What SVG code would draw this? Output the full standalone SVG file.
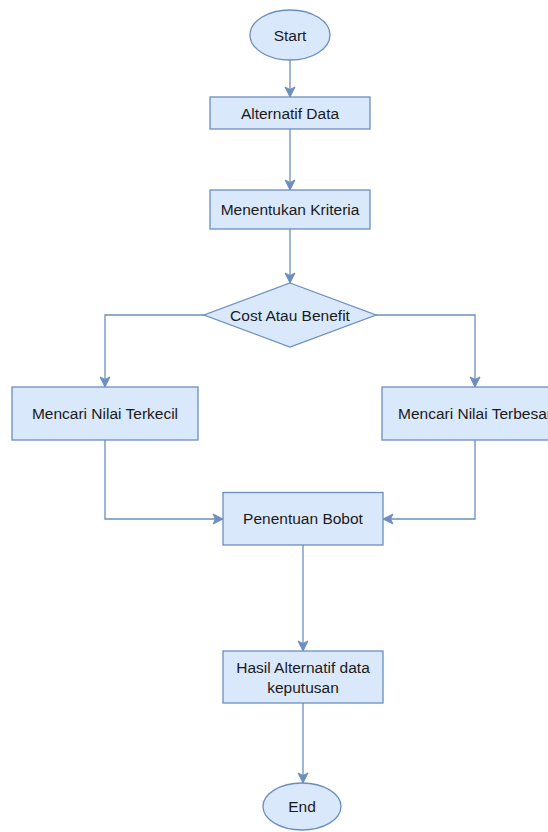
<svg xmlns="http://www.w3.org/2000/svg" width="548" height="832" viewBox="0 0 548 832">
<style>
.n{fill:#dae8fc;stroke:#6c8ebf;stroke-width:1.3}
.t{font-family:"Liberation Sans",Arial,sans-serif;font-size:15.5px;fill:#1a1a1a;text-anchor:middle;dominant-baseline:central}
.e{fill:none;stroke:#6c8ebf;stroke-width:1.3}
</style>
<defs>
<marker id="a" markerUnits="userSpaceOnUse" markerWidth="12" markerHeight="12" viewBox="0 0 12 12" refX="11" refY="6" orient="auto">
<path d="M1,1 L11,6 L1,11 L3.5,6 Z" fill="#6c8ebf" stroke="#6c8ebf" stroke-width="1"/>
</marker>
</defs>
<rect width="548" height="832" fill="#ffffff"/>
<g id="connectors">
<path class="e" d="M290,60 V97" marker-end="url(#a)"/>
<path class="e" d="M290,129 V190" marker-end="url(#a)"/>
<path class="e" d="M290,229 V283" marker-end="url(#a)"/>
<path class="e" d="M204,315 H105 V387" marker-end="url(#a)"/>
<path class="e" d="M376,315 H475 V387" marker-end="url(#a)"/>
<path class="e" d="M105,440 V519 H223" marker-end="url(#a)"/>
<path class="e" d="M475,440 V519 H383" marker-end="url(#a)"/>
<path class="e" d="M303,545 V651" marker-end="url(#a)"/>
<path class="e" d="M303,703 V783" marker-end="url(#a)"/>
</g>
<g id="start"><ellipse class="n" cx="290" cy="35" rx="40" ry="25"/><text class="t" x="290" y="35">Start</text></g>
<g id="alternatif"><rect class="n" x="210" y="97" width="160" height="32"/><text class="t" x="290" y="113">Alternatif Data</text></g>
<g id="kriteria"><rect class="n" x="210" y="190" width="160" height="39"/><text class="t" x="290" y="209.5">Menentukan Kriteria</text></g>
<g id="decision"><polygon class="n" points="290,283 376,315 290,347 204,315"/><text class="t" x="290" y="315">Cost Atau Benefit</text></g>
<g id="terkecil"><rect class="n" x="12" y="387" width="186" height="53"/><text class="t" x="105" y="413.5">Mencari Nilai Terkecil</text></g>
<g id="terbesar"><rect class="n" x="382" y="387" width="186" height="53"/><text class="t" x="475" y="413.5">Mencari Nilai Terbesar</text></g>
<g id="bobot"><rect class="n" x="223" y="492.5" width="160" height="52.5"/><text class="t" x="303" y="518.5">Penentuan Bobot</text></g>
<g id="hasil"><rect class="n" x="223" y="651" width="160" height="52"/><text class="t" x="303" y="667">Hasil Alternatif data</text><text class="t" x="303" y="687">keputusan</text></g>
<g id="end"><ellipse class="n" cx="302" cy="806.5" rx="39" ry="23.5"/><text class="t" x="302" y="806.5">End</text></g>
</svg>
